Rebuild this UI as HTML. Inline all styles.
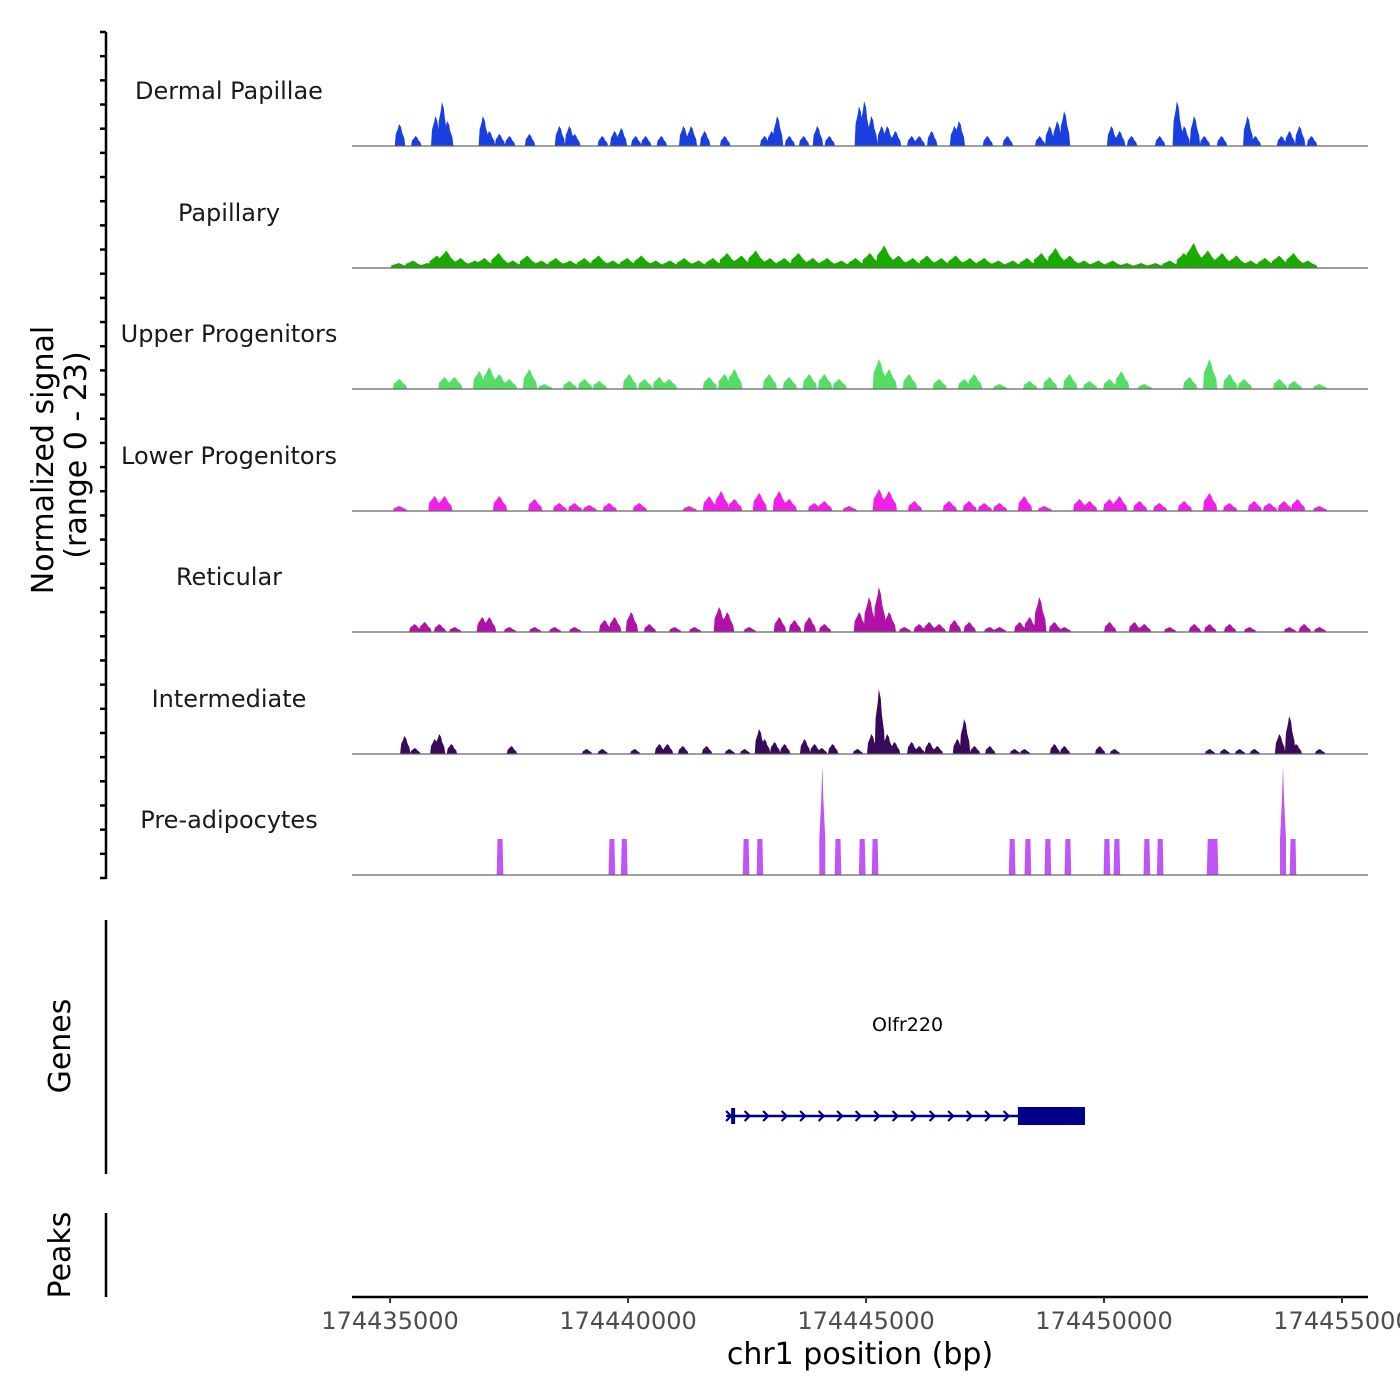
<!DOCTYPE html>
<html><head><meta charset="utf-8"><style>
html,body{margin:0;padding:0;background:#fff;}
svg{display:block;font-family:"DejaVu Sans","Liberation Sans",sans-serif;}
</style></head><body>
<svg id="chart" width="1400" height="1400" viewBox="0 0 1400 1400">
<g id="leftaxis"></g>
<text transform="translate(53,460) rotate(-90)" text-anchor="middle" font-size="30" fill="#000">Normalized signal</text>
<text transform="translate(86,455) rotate(-90)" text-anchor="middle" font-size="30" fill="#000">(range 0 - 23)</text>
<g id="tracks"></g>
<line x1="106" y1="920" x2="106" y2="1174" stroke="#000" stroke-width="2.5"/>
<text transform="translate(70,1046) rotate(-90)" text-anchor="middle" font-size="30" fill="#000">Genes</text>
<g id="genes"></g>
<line x1="106" y1="1213" x2="106" y2="1297" stroke="#000" stroke-width="2.5"/>
<text transform="translate(70,1255) rotate(-90)" text-anchor="middle" font-size="30" fill="#000">Peaks</text>
<g id="xaxis"></g>
<text x="860" y="1364" text-anchor="middle" font-size="30" fill="#000">chr1 position (bp)</text>
</svg>
<script>
const trackNames = ["Dermal Papillae","Papillary","Upper Progenitors","Lower Progenitors","Reticular","Intermediate","Pre-adipocytes"];
const trackColors = ["#1a3fe0","#1aaa00","#55dd66","#f020e8","#b012a8","#3a0a5a","#c055f5"];
const xTickValues = [174435000,174440000,174445000,174450000,174455000];
const xTickLabels = ["174435000","174440000","174445000","174450000","174455000"];
// positions in kb offset from 174435000, values in normalized signal
const dpPos = [0.21,0.55,0.97,1.11,1.22,1.97,2.10,2.31,2.52,2.94,3.57,3.78,3.89,4.47,4.73,4.87,5.17,5.38,5.71,6.18,6.34,6.62,7.04,7.88,8.03,8.15,8.40,8.70,8.99,9.24,9.87,9.98,10.13,10.34,10.46,10.63,10.97,11.13,11.39,11.87,11.97,12.56,12.98,13.66,13.87,14.03,14.18,15.17,15.34,15.59,16.18,16.55,16.70,16.91,17.12,17.48,18.03,18.19,18.74,18.91,19.12,19.37];
const dpVal = [4.4,2,6,8.8,5,6,3,2.4,2,2.4,4,4,2.4,2,3,3.6,2,2,2,4,4,3,2,2,3,6,2,2,4,2,8,9,6,4,4,3,2,2,3,4,5,2,2,2,4,5,7,4,3,2,2,9,4,6,2,2,6,2,2,3,4,2];
const papPos = [0.2,0.5,0.8,1.0,1.2,1.5,1.8,2.0,2.3,2.6,2.9,3.2,3.5,3.8,4.1,4.4,4.7,5.0,5.3,5.6,5.9,6.2,6.5,6.8,7.1,7.4,7.7,8.0,8.3,8.6,8.9,9.2,9.5,9.8,10.1,10.4,10.7,11.0,11.3,11.6,11.9,12.2,12.5,12.8,13.1,13.4,13.7,14.0,14.3,14.6,14.9,15.2,15.5,15.8,16.1,16.4,16.7,16.9,17.2,17.5,17.8,18.1,18.4,18.7,19.0,19.3];
const papVal = [1,1.5,1,2.5,3.5,2,1.5,2,3,1.5,2.5,1.5,2,1.5,2,2.5,1.5,2,2.5,1.5,1.5,2,1.5,2,3,2.5,3.5,2,2,3,2,2,1.5,2,3,4.5,2.5,2,2.5,2,2.5,2,2,1.5,1.5,2,3,4,2.5,1.5,1.5,1.5,1,1,1,1.5,3,5,3.5,3,2.5,1.5,2,2.5,3,1.5];
const upPos = [0.21,1.16,1.37,1.89,2.10,2.31,2.52,2.94,3.26,3.78,4.10,4.41,5.04,5.36,5.67,5.88,6.72,7.04,7.25,7.98,8.40,8.82,9.14,9.45,10.29,10.50,10.92,11.55,12.08,12.29,12.82,13.45,13.87,14.29,14.71,15.13,15.38,15.86,16.81,17.23,17.65,17.96,18.70,19.01,19.54];
const upVal = [2,2.4,2.4,3.6,4.4,3,2,4,1,1.6,2,1.6,3,2,2.4,2,2.4,3,4,3,2.4,3,3,2,6,4,3,2,2,3,1,1.6,2.4,3,1.6,2,3.6,1,2.4,6,3,2,2,1.6,1];
const loPos = [0.21,0.95,1.16,2.31,3.05,3.57,3.89,4.20,4.62,5.25,6.30,6.72,6.97,7.25,7.77,8.19,8.40,8.93,9.14,9.66,10.29,10.50,11.03,11.76,12.18,12.50,12.82,13.34,13.76,14.50,14.71,15.13,15.34,15.76,16.18,16.70,17.23,17.65,18.17,18.49,18.80,19.08,19.54];
const loVal = [1,3,3,3,2.4,1.6,1.6,1.2,1.6,1.6,1,3,4,2.4,3.6,4,2.4,1.6,2,1,4.4,4,2,2,2,1.6,1.6,3,1,2.4,2,2.4,3,2,1.6,2,3.6,1.6,2,1.6,2,2.4,1];
const retPos = [0.53,0.74,1.05,1.37,1.95,2.10,2.52,3.05,3.47,3.89,4.52,4.73,5.08,5.46,5.99,6.41,6.93,7.10,7.56,8.19,8.51,8.82,9.14,9.87,10.08,10.29,10.50,10.82,11.13,11.34,11.55,11.87,12.18,12.61,12.82,13.24,13.45,13.66,13.97,14.18,15.13,15.65,15.86,16.39,16.91,17.23,17.65,18.07,18.91,19.22,19.54];
const retVal = [1.6,2,1.6,1,3,3,1,1,1,1,2.4,3,4,1.6,1,1,5,4,1,3,2.4,3,1.6,4,7,9,4,1,1.6,2,1.6,2.4,2,1,1,2,3,7,2,1,2,2,1.6,1,1.6,1.6,1.6,1,1,1.6,1];
const intPos = [0.32,0.53,0.95,1.05,1.30,2.56,4.14,4.47,5.15,5.67,5.84,6.16,6.66,7.14,7.46,7.77,7.88,8.09,8.30,8.72,8.93,9.08,9.31,9.83,10.13,10.29,10.46,10.61,10.97,11.13,11.34,11.51,11.93,12.08,12.29,12.61,13.13,13.34,13.97,14.18,14.92,15.23,17.23,17.54,17.86,18.17,18.70,18.91,19.05,19.54];
const intVal = [3.6,1.2,3,4,2,1.6,1,1,1,2,2,1.6,1.6,1,1,5,3,2.4,2,3,2,1.2,2,1,4,13,4,2.4,2.4,1.6,2.4,1.6,3,7,1.6,1.6,1,1,2,1.6,1.6,1,1,1,1,1,4,7.6,2,1];
const prePos = [2.31,4.66,4.92,7.48,7.77,9.08,9.41,9.92,10.19,13.07,13.40,13.82,14.24,15.06,15.27,15.90,16.18,17.23,17.33,18.76,18.97];
const preVal = [7.2,7.2,7.2,7.2,7.2,22,7.2,7.2,7.2,7.2,7.2,7.2,7.2,7.2,7.2,7.2,7.2,7.2,7.2,22,7.2];
const genePos = {start:7.06, exonStart:13.19, end:14.6};
const geneName = "Olfr220";

const NS="http://www.w3.org/2000/svg";
const PX0=352, PX1=1368, KB0=-0.80, KB1=20.546;
function xScale(kb){return PX0+(kb-KB0)/(KB1-KB0)*(PX1-PX0);}
function yScale(v){return v*5;}
function mk(tag,attrs,parent){const e=document.createElementNS(NS,tag);for(const k in attrs)e.setAttribute(k,attrs[k]);parent.appendChild(e);return e;}

const allPos=[dpPos,papPos,upPos,loPos,retPos,intPos,prePos];
const allVal=[dpVal,papVal,upVal,loVal,retVal,intVal,preVal];
const widths=[0.22,0.38,0.3,0.3,0.26,0.22,0.14];
const baselines=[146,268,389,511,632,754,875];
const tracksG=document.getElementById('tracks');
for(let t=0;t<7;t++){
  const g=mk('g',{},tracksG);
  
  
  const b=baselines[t];
  const lab=mk('text',{x:229,y:b-47,'text-anchor':'middle','font-size':24,fill:'#1a1a1a'},g);
  lab.textContent=trackNames[t];
  
  
  const pos=allPos[t], val=allVal[t], w=widths[t];
  for(let i=0;i<Math.min(pos.length,val.length);i++){
    const x0=xScale(pos[i]-w/2), x1=xScale(pos[i]+w/2), xm=xScale(pos[i]);
    const h=yScale(val[i]);
    let pts;
    if(t===6){
      if(val[i]>10){pts=[[x0,b],[xm-3,b],[xm-3,b-yScale(7.2)],[xm-1,b-h*0.7],[xm,b-h],[xm+1,b-h*0.7],[xm+3,b-yScale(7.2)],[xm+3,b],[x1,b]];}
      else pts=[[x0,b],[xm-2.5,b-h],[xm+2.5,b-h],[x1,b]];
    } else {
      pts=[[x0,b],[x0+1,b-h*0.55],[xm-(x1-x0)*0.2,b-h*0.8],[xm-1,b-h],[xm+1,b-h*0.85],[xm+(x1-x0)*0.2,b-h*0.6],[x1-1,b-h*0.35],[x1,b]];
    }
    const p=mk('polygon',{points:pts.map(q=>q[0].toFixed(1)+','+q[1].toFixed(1)).join(' '),fill:trackColors[t]},g);
    
    
  }
  const bl=mk('line',{x1:PX0,x2:PX1,y1:b,y2:b,stroke:'#666','stroke-width':1.2},g);
  
  
}

// left axis
const la=document.getElementById('leftaxis');
const al=mk('line',{x1:106,y1:32,x2:106,y2:879,stroke:'#000','stroke-width':2.5},la);


for(let i=0;i<=35;i++){
  const y=32+i*(846/35);
  const tk=mk('line',{x1:100,x2:106,y1:y,y2:y,stroke:'#000','stroke-width':2.5},la);
  
  
}

// gene
const gg=document.getElementById('genes');
const gs=xScale(genePos.start), ge=xScale(genePos.end), gx=xScale(genePos.exonStart), gy=1116;
const gl=mk('line',{x1:gs,x2:ge,y1:gy,y2:gy,stroke:'#00008b','stroke-width':2.5},gg);


for(let x=gs+3;x<gx-4;x+=18.5){
  const a=mk('polyline',{points:`${x-3},${gy-5} ${x+2},${gy} ${x-3},${gy+5}`,fill:'none',stroke:'#00008b','stroke-width':2.2},gg);
  
  
}
const ex1=mk('rect',{x:gs+5,y:gy-8,width:4,height:16,fill:'#00008b'},gg);


const ex2=mk('rect',{x:gx,y:gy-9,width:ge-gx,height:18,fill:'#00008b'},gg);


const gt=mk('text',{x:(gs+ge)/2+2,y:1031,'text-anchor':'middle','font-size':19,fill:'#000'},gg);
gt.textContent=geneName;



// x axis
const xa=document.getElementById('xaxis');
const xl=mk('line',{x1:PX0,x2:PX1,y1:1297,y2:1297,stroke:'#000','stroke-width':2.5},xa);


for(let i=0;i<xTickValues.length;i++){
  const x=xScale((xTickValues[i]-174435000)/1000);
  const tk=mk('line',{x1:x,x2:x,y1:1297,y2:1303,stroke:'#333','stroke-width':2},xa);
  
  
  const tl=mk('text',{x:x,y:1329,'text-anchor':'middle','font-size':24,fill:'#4d4d4d'},xa);
  tl.textContent=xTickLabels[i];
  
  
}
</script>
</body></html>
